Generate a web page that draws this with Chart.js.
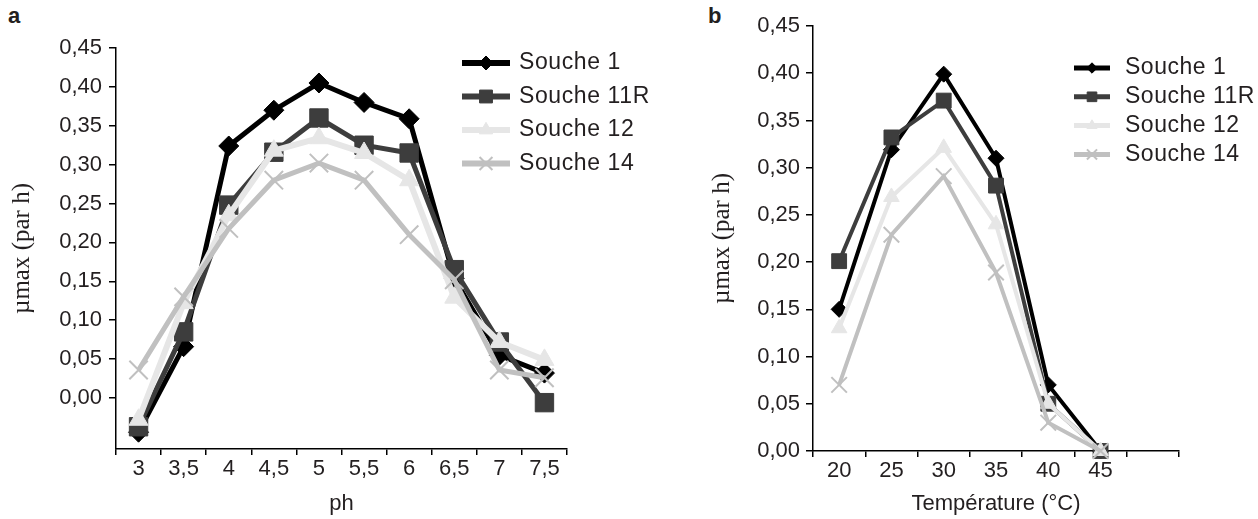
<!DOCTYPE html>
<html>
<head>
<meta charset="utf-8">
<script src="https://cdn.jsdelivr.net/npm/chart.js@4.4.1/dist/chart.umd.min.js"></script>
<style>
  html, body { margin: 0; padding: 0; background: #fff; }
  body { width: 1258px; height: 519px; position: relative; overflow: hidden; font-family: 'Liberation Sans', Arial, sans-serif; color: #231f20; }
  .panel { position: absolute; top: 0; height: 519px; }
  #panelA { left: 0; width: 700px; }
  #panelB { left: 700px; width: 558px; }
  .tag { position: absolute; top: 3px; font-weight: bold; font-size: 22px; line-height: 26px; }
</style>
</head>
<body>
<div class="tag" style="left:8px">a</div>
<div class="tag" style="left:708px">b</div>
<div class="panel" id="panelA"><canvas id="phChart" width="700" height="519"></canvas></div>
<div class="panel" id="panelB"><canvas id="tempChart" width="558" height="519"></canvas></div>
<script>
// ── Data ──────────────────────────────────────────────
const strains = ['Souche 1', 'Souche 11R', 'Souche 12', 'Souche 14'];

const phLabels = ['3', '3,5', '4', '4,5', '5', '5,5', '6', '6,5', '7', '7,5'];
const phS1  = [-0.044, 0.066, 0.324, 0.370, 0.405, 0.380, 0.359, 0.154, 0.055, 0.032];
const phS11 = [-0.037, 0.085, 0.248, 0.316, 0.360, 0.325, 0.315, 0.165, 0.072, -0.006];
const phS12 = [-0.028, 0.122, 0.235, 0.318, 0.334, 0.315, 0.280, 0.129, 0.072, 0.049];
const phS14 = [0.036, 0.130, 0.218, 0.280, 0.302, 0.280, 0.210, 0.152, 0.036, 0.026];

const tempLabels = ['20', '25', '30', '35', '40', '45', ''];
const tS1  = [0.150, 0.319, 0.399, 0.310, 0.070, 0.000];
const tS11 = [0.201, 0.332, 0.371, 0.281, 0.050, 0.000];
const tS12 = [0.130, 0.269, 0.321, 0.240, 0.050, 0.000];
const tS14 = [0.070, 0.229, 0.291, 0.189, 0.030, 0.000];

const yTicks = [0, 0.05, 0.10, 0.15, 0.20, 0.25, 0.30, 0.35, 0.40, 0.45];

// ── Styles ────────────────────────────────────────────
const colors = ['#000000', '#3d3d3d', '#e6e6e6', '#c0c0c0'];
const markers = ['rectRot', 'rect', 'triangle', 'crossRot'];
const TEXT = '#231f20';
const SANS = "'Liberation Sans', Arial, sans-serif";
const SERIF = "'Liberation Serif', 'Times New Roman', serif";

function makeSets(series, lineW, radii) {
  return series.map((data, i) => ({
    label: strains[i],
    data: data,
    borderColor: colors[i],
    backgroundColor: colors[i],
    borderWidth: lineW[i],
    pointStyle: markers[i],
    pointRadius: radii[i],
    pointBorderWidth: markers[i] === 'crossRot' ? 2 : 1,
    pointBorderColor: colors[i],
    pointBackgroundColor: colors[i],
    tension: 0,
    clip: false,
    order: series.length - i
  }));
}

// legend drawn by hand so it sits where the original has it
function legendPlugin(cfg) {
  return {
    id: 'sideLegend',
    afterDraw(chart) {
      const ctx = chart.ctx;
      ctx.save();
      chart.data.datasets.forEach((ds, i) => {
        const y = cfg.y0 + i * cfg.step;
        ctx.strokeStyle = ds.borderColor;
        ctx.lineWidth = cfg.lineW;
        ctx.beginPath();
        ctx.moveTo(cfg.x0, y);
        ctx.lineTo(cfg.x1, y);
        ctx.stroke();
        ctx.fillStyle = ds.backgroundColor;
        ctx.lineWidth = ds.pointBorderWidth;
        Chart.helpers.drawPoint(ctx, {
          pointStyle: ds.pointStyle,
          radius: ds.pointRadius * cfg.scale,
          rotation: 0,
          borderWidth: ds.pointBorderWidth
        }, (cfg.x0 + cfg.x1) / 2, y);
        ctx.fillStyle = TEXT;
        ctx.font = cfg.font + 'px ' + SANS;
        if ('letterSpacing' in ctx) ctx.letterSpacing = cfg.spacing;
        ctx.textBaseline = 'middle';
        ctx.textAlign = 'left';
        ctx.fillText(ds.label, cfg.tx, y);
      });
      ctx.restore();
    }
  };
}

function fmt(v) {
  return Number(v).toFixed(2).replace('.', ',');
}

function buildChart(id, labels, series, o) {
  return new Chart(document.getElementById(id), {
    type: 'line',
    data: { labels: labels, datasets: makeSets(series, o.lineW, o.radii) },
    plugins: [legendPlugin(o.legend)],
    options: {
      responsive: false,
      animation: false,
      devicePixelRatio: 1,
      layout: { padding: o.padding },
      plugins: { legend: { display: false }, tooltip: { enabled: false } },
      scales: {
        x: {
          type: 'category',
          offset: true,
          afterFit: s => { s.height = o.xHeight; },
          border: { color: '#000', width: 1.5 },
          grid: { offset: true, drawOnChartArea: false, tickLength: 6, color: '#000', lineWidth: 1.5 },
          ticks: { color: TEXT, font: { family: SANS, size: 22 }, padding: 1, maxRotation: 0, autoSkip: false },
          title: { display: true, text: o.xTitle, color: TEXT, font: { family: SANS, size: 22 }, padding: { top: 0, bottom: 2 } }
        },
        y: {
          min: o.yMin,
          max: 0.45,
          afterFit: s => { s.width = o.yWidth; },
          afterBuildTicks: s => { s.ticks = yTicks.map(v => ({ value: v })); },
          border: { color: '#000', width: 1.5 },
          grid: { drawOnChartArea: false, tickLength: 7, color: '#000', lineWidth: 1.5 },
          ticks: { color: TEXT, font: { family: SANS, size: 22 }, padding: o.yPad, callback: v => fmt(v) },
          title: { display: true, text: 'µmax (par h)', color: TEXT, font: { family: SERIF, size: 25 }, padding: { top: 7, bottom: 0 } }
        }
      }
    }
  });
}

buildChart('phChart', phLabels, [phS1, phS11, phS12, phS14], {
  padding: { top: 48, right: 133, bottom: 0, left: 0 },
  xHeight: 70, yWidth: 116, yMin: -0.0656, yPad: 7,
  xTitle: 'ph',
  lineW: [5, 5, 6, 5],
  radii: [10, 13, 11, 13],
  legend: { x0: 462, x1: 510, tx: 519, y0: 63, step: 33.5, lineW: 6, scale: 0.7, font: 23, spacing: '0.6px' }
});

buildChart('tempChart', tempLabels, [tS1, tS11, tS12, tS14], {
  padding: { top: 26, right: 79, bottom: 0, left: 0 },
  xHeight: 68, yWidth: 113, yMin: 0, yPad: 6,
  xTitle: 'Température (°C)',
  lineW: [4, 4, 4, 4],
  radii: [8, 10.5, 9, 11],
  legend: { x0: 374, x1: 410, tx: 425, y0: 68, step: 28.8, lineW: 5, scale: 0.65, font: 23, spacing: '0.5px' }
});
</script>
</body>
</html>
